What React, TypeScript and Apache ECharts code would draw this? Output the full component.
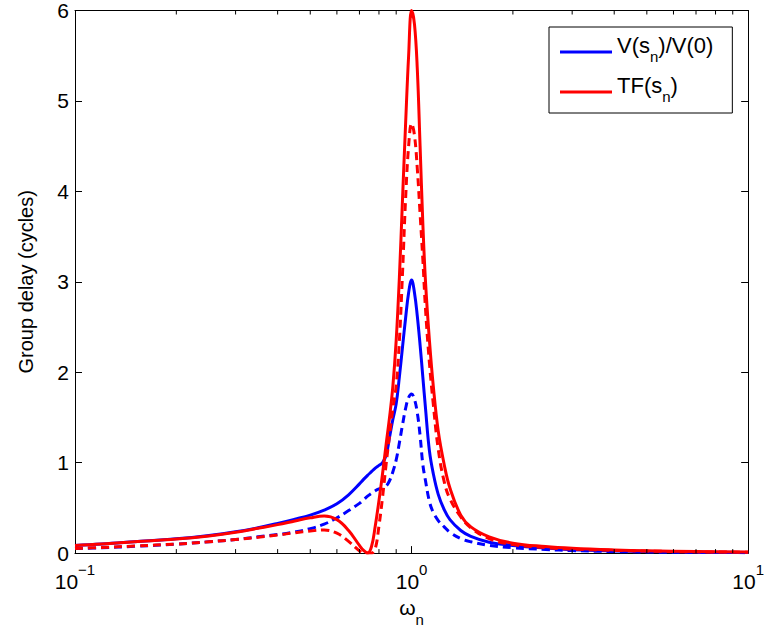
import React, { useEffect, useRef } from "react";
import * as echarts from "echarts";

const FONT = "'Liberation Sans', Arial, Helvetica, sans-serif";

// normalised frequency (omega_n)
const freq = [
  0.1, 0.12, 0.15, 0.2, 0.25, 0.3, 0.35, 0.4, 0.45, 0.5,
  0.55, 0.6, 0.65, 0.7, 0.72, 0.74, 0.76, 0.78, 0.8, 0.82,
  0.84, 0.86, 0.88, 0.9, 0.92, 0.94, 0.96, 0.98, 1.0, 1.02,
  1.04, 1.06, 1.08, 1.1, 1.13, 1.16, 1.2, 1.25, 1.3, 1.4,
  1.5, 1.7, 2.0, 2.5, 3, 4, 5, 7, 10,
];

// V(s_n)/V(0), solid
const vSolid = [
  0.085, 0.1, 0.125, 0.158, 0.195, 0.235, 0.28, 0.328, 0.375, 0.42,
  0.475, 0.545, 0.645, 0.765, 0.815, 0.86, 0.9, 0.94, 0.97, 1.0,
  1.08, 1.28, 1.48, 1.65, 1.95, 2.28, 2.6, 2.88, 3.02, 2.88,
  2.62, 2.3, 1.95, 1.6, 1.13, 0.88, 0.65, 0.48, 0.37, 0.25,
  0.185, 0.12, 0.085, 0.055, 0.038, 0.024, 0.017, 0.011, 0.007,
];

// V(s_n)/V(0), dashed
const vDashed = [
  0.05, 0.06, 0.075, 0.1, 0.125, 0.15, 0.18, 0.205, 0.235, 0.27,
  0.32, 0.39, 0.47, 0.55, 0.59, 0.63, 0.66, 0.69, 0.71, 0.72,
  0.74, 0.8, 0.9, 1.03, 1.22, 1.42, 1.6, 1.72, 1.76, 1.7,
  1.55, 1.3, 0.98, 0.8, 0.57, 0.45, 0.36, 0.29, 0.23, 0.16,
  0.125, 0.085, 0.06, 0.04, 0.028, 0.017, 0.012, 0.008, 0.005,
];

// TF(s_n), solid
const tfSolid = [
  0.085, 0.1, 0.125, 0.155, 0.19, 0.23, 0.275, 0.315, 0.355, 0.39,
  0.41, 0.37, 0.25, 0.085, 0.03, 0.0, 0.07, 0.3, 0.58, 0.88,
  1.2, 1.5, 1.85, 2.35, 3.05, 3.92, 4.75, 5.5, 6.0, 5.85,
  5.35, 4.5, 3.65, 3.0, 2.35, 1.85, 1.35, 0.98, 0.72, 0.42,
  0.29, 0.18, 0.11, 0.072, 0.053, 0.035, 0.026, 0.017, 0.012,
];

// TF(s_n), dashed
const tfDashed = [
  0.05, 0.062, 0.078, 0.1, 0.125, 0.15, 0.175, 0.2, 0.225, 0.245,
  0.255, 0.22, 0.13, 0.025, 0.0, 0.0, 0.0, 0.05, 0.3, 0.62,
  0.98, 1.3, 1.6, 1.85, 2.35, 3.1, 3.92, 4.5, 4.75, 4.62,
  4.25, 3.75, 3.25, 2.7, 2.1, 1.65, 1.15, 0.79, 0.6, 0.4,
  0.28, 0.16, 0.095, 0.06, 0.045, 0.03, 0.022, 0.014, 0.01,
];

const xMinorTicks = [0.2, 0.3, 0.4, 0.5, 0.6, 0.7, 0.8, 0.9, 2, 3, 4, 5, 6, 7, 8, 9];

const legendNames = ["V(s_n)/V(0)", "TF(s_n)"];
const legendRich: Record<string, string> = {
  "V(s_n)/V(0)": "{t|V(s}{s|n}{t|)/V(0)}",
  "TF(s_n)": "{t|TF(s}{s|n}{t|)}",
};

const BLUE = "#0000ff";
const RED = "#ff0000";

export default function App() {
  const ref = useRef<HTMLDivElement>(null);

  useEffect(() => {
    const chart = echarts.init(ref.current as HTMLDivElement, null, { renderer: "svg" });
    const pts = (ys: number[]) => freq.map((f, i) => [f, ys[i]]);
    const lineSeries = (name: string, ys: number[], color: string, dashed: boolean) => ({
      type: "line",
      name,
      data: pts(ys),
      showSymbol: false,
      symbol: "none",
      smooth: 0.4,
      clip: true,
      z: 3,
      emphasis: { disabled: true },
      lineStyle: { color, width: 3, type: dashed ? [8, 5] : "solid", join: "round", cap: "butt" },
      itemStyle: { color },
    });

    const axisLineStyle = { color: "#000", width: 1 };
    const tickStyle = { color: "#000", width: 1 };

    chart.setOption({
      animation: false,
      backgroundColor: "#fff",
      textStyle: { fontFamily: FONT, color: "#000" },
      grid: { left: 75, right: 18, top: 9, bottom: 71, containLabel: false },
      legend: {
        data: legendNames,
        orient: "vertical",
        left: 549,
        top: 27,
        padding: [7, 19, 9, 11],
        itemGap: 10,
        itemWidth: 52,
        itemHeight: 3,
        icon: "rect",
        borderColor: "#000",
        borderWidth: 1,
        borderRadius: 0,
        backgroundColor: "#fff",
        selectedMode: false,
        formatter: (name: string) => legendRich[name] || name,
        textStyle: {
          fontFamily: FONT,
          color: "#000",
          rich: {
            t: { fontSize: 22, lineHeight: 36, verticalAlign: "top", fontFamily: FONT, color: "#000" },
            s: { fontSize: 15, lineHeight: 36, padding: [15, 0, 0, 0], verticalAlign: "top", fontFamily: FONT, color: "#000" },
          },
        },
      },
      xAxis: [
        {
          type: "log",
          logBase: 10,
          min: 0.1,
          max: 10,
          position: "bottom",
          axisLine: { show: true, onZero: false, lineStyle: axisLineStyle },
          axisTick: { show: true, inside: true, length: 7, lineStyle: tickStyle },
          splitLine: { show: false },
          axisLabel: {
            show: true,
            margin: 9,
            showMinLabel: true,
            showMaxLabel: true,
            formatter: (v: number) => {
              const e = Math.round(Math.log10(v));
              return `{b|10}{p|${e < 0 ? "\u2212" + -e : e}}`;
            },
            rich: {
              b: { fontSize: 21, lineHeight: 30, verticalAlign: "bottom", fontFamily: FONT, color: "#000" },
              p: { fontSize: 15, lineHeight: 16, verticalAlign: "top", fontFamily: FONT, color: "#000" },
            },
          },
          name: "{w|\u03c9}{s|n}",
          nameLocation: "middle",
          nameGap: 35,
          nameTextStyle: {
            rich: {
              w: { fontSize: 21, lineHeight: 22, verticalAlign: "top", fontFamily: FONT, color: "#000" },
              s: { fontSize: 15, lineHeight: 15, padding: [15, 0, 0, 0], verticalAlign: "top", fontFamily: FONT, color: "#000" },
            },
          },
        },
        {
          type: "log",
          logBase: 10,
          min: 0.1,
          max: 10,
          position: "top",
          axisLine: { show: true, onZero: false, lineStyle: axisLineStyle },
          axisTick: { show: true, inside: true, length: 7, lineStyle: tickStyle },
          splitLine: { show: false },
          axisLabel: { show: false },
        },
      ],
      yAxis: [
        {
          type: "value",
          min: 0,
          max: 6,
          interval: 1,
          position: "left",
          axisLine: { show: true, onZero: false, lineStyle: axisLineStyle },
          axisTick: { show: true, inside: true, length: 7, lineStyle: tickStyle },
          splitLine: { show: false },
          axisLabel: { show: true, margin: 6, fontSize: 21, fontFamily: FONT, color: "#000" },
          name: "Group delay (cycles)",
          nameLocation: "middle",
          nameGap: 39,
          nameTextStyle: { fontSize: 20, fontFamily: FONT, color: "#000" },
        },
        {
          type: "value",
          min: 0,
          max: 6,
          interval: 1,
          position: "right",
          axisLine: { show: true, onZero: false, lineStyle: axisLineStyle },
          axisTick: { show: true, inside: true, length: 7, lineStyle: tickStyle },
          splitLine: { show: false },
          axisLabel: { show: false },
        },
      ],
      series: [
        lineSeries(legendNames[0], vSolid, BLUE, false),
        lineSeries("V dashed", vDashed, BLUE, true),
        lineSeries(legendNames[1], tfSolid, RED, false),
        lineSeries("TF dashed", tfDashed, RED, true),
        {
          type: "custom",
          name: "minor ticks",
          xAxisIndex: 0,
          yAxisIndex: 0,
          silent: true,
          z: 5,
          clip: false,
          data: xMinorTicks.map((v) => [v, 0]),
          encode: { x: 0, y: 1 },
          renderItem: (_params: any, api: any) => {
            const x = api.value(0);
            const b = api.coord([x, 0]);
            const t = api.coord([x, 6]);
            return {
              type: "group",
              children: [
                { type: "line", shape: { x1: b[0], y1: b[1], x2: b[0], y2: b[1] - 4 }, style: { stroke: "#000", lineWidth: 1 } },
                { type: "line", shape: { x1: t[0], y1: t[1], x2: t[0], y2: t[1] + 4 }, style: { stroke: "#000", lineWidth: 1 } },
              ],
            };
          },
        },
      ],
    });

    return () => chart.dispose();
  }, []);

  return (
    <div
      ref={ref}
      style={{ position: "fixed", left: 0, top: 0, width: 767, height: 632, background: "#fff" }}
    />
  );
}
